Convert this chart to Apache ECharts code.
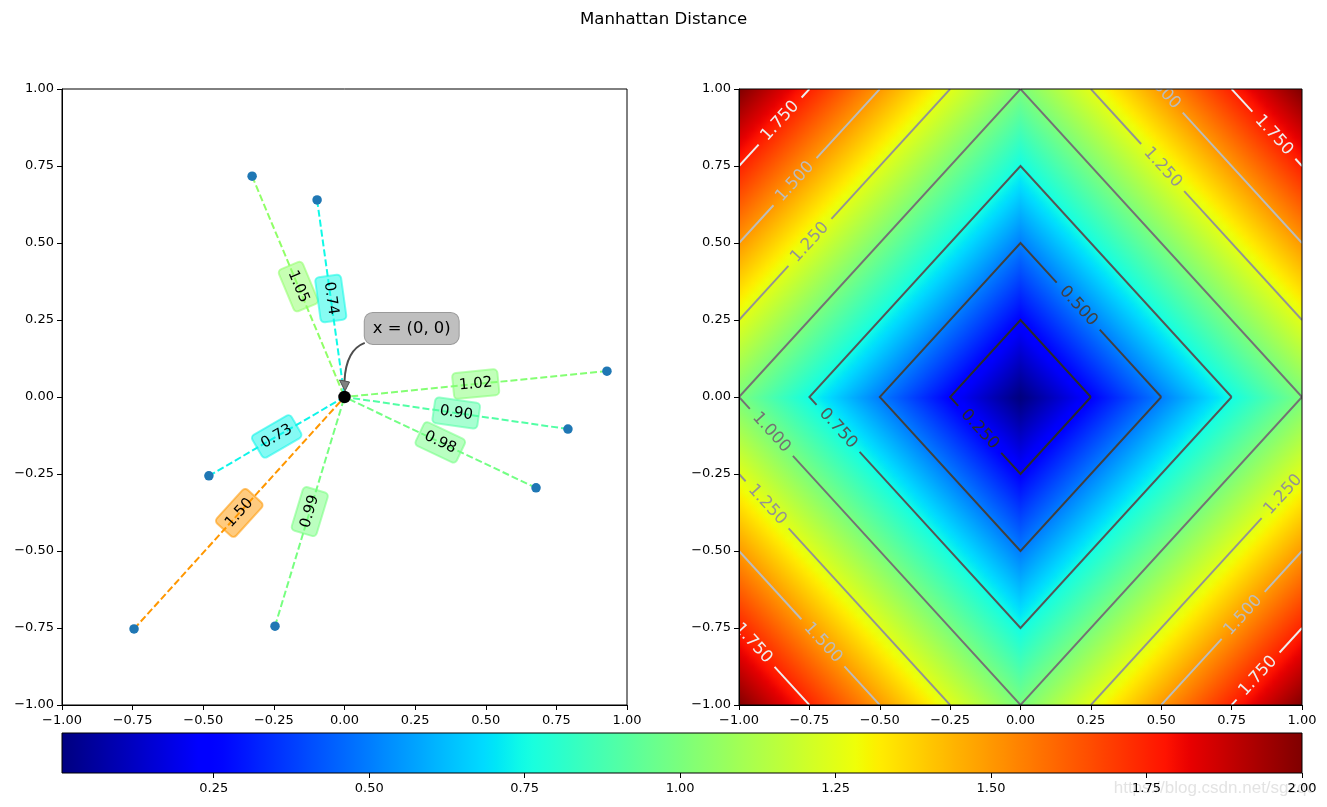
<!DOCTYPE html>
<html><head><meta charset="utf-8">
<script src="https://cdn.jsdelivr.net/npm/echarts@6/dist/echarts.min.js"></script>
<style>html,body{margin:0;padding:0;background:#fff}#c{width:1327px;height:807px}</style>
</head><body><div id="c"></div>
<script>
// ---------------- data ----------------
const titleText = 'Manhattan Distance';
const pointX = [-0.327, -0.097, 0.929, 0.791, 0.678, -0.480, -0.745, -0.246];
const pointY = [0.717, 0.640, 0.084, -0.104, -0.295, -0.256, -0.753, -0.744];
const distLabels = ['1.05', '0.74', '1.02', '0.90', '0.98', '0.73', '1.50', '0.99'];
const originXY = [0, 0];
const annotationText = 'x = (0, 0)';
const annotationXY = [0.1, 0.2];
const axisTicks = [-1.00, -0.75, -0.50, -0.25, 0.00, 0.25, 0.50, 0.75, 1.00];
const contourLevels = [0.25, 0.50, 0.75, 1.00, 1.25, 1.50, 1.75];
const contourLabelLevel = [0.25, 0.50, 0.75, 1.00, 1.25, 1.25, 1.25, 1.25, 1.50, 1.50, 1.50, 1.50, 1.75, 1.75, 1.75, 1.75];
const contourLabelX =     [-0.145, 0.205, -0.648, -0.885, -0.748, 0.505, -0.900, 0.933, -0.801, 0.500, -0.702, 0.791, -0.854, 0.900, -0.950, 0.844];
const contourLabelY =     [-0.105, 0.295, -0.102, -0.115, 0.502, 0.745, -0.350, -0.317, 0.699, 1.000, -0.798, -0.709, 0.896, 0.850, -0.800, -0.906];
const cbarMin = 0.006, cbarMax = 2.0;
const cbarTicks = [0.25, 0.50, 0.75, 1.00, 1.25, 1.50, 1.75, 2.00];
const watermarkText = 'https://blog.csdn.net/sgzqc';

// ---------------- styles ----------------
const FONT = 'DejaVu Sans';
const TICK_FS = 13;
const contourColors = ['#2a2a2a', '#404040', '#555555', '#737373', '#939393', '#bcbcbc', '#eeeeee'];

// ---------------- helpers ----------------
function interp(v, pts) {
  if (v <= pts[0][0]) return pts[0][1];
  for (let i = 1; i < pts.length; i++) {
    if (v <= pts[i][0]) {
      const a = pts[i - 1], b = pts[i];
      return a[1] + (b[1] - a[1]) * (v - a[0]) / (b[0] - a[0]);
    }
  }
  return pts[pts.length - 1][1];
}
function jet(v) {
  v = Math.max(0, Math.min(1, v));
  const r = interp(v, [[0, 0], [0.35, 0], [0.66, 1], [0.89, 1], [1, 0.5]]);
  const g = interp(v, [[0, 0], [0.125, 0], [0.375, 1], [0.64, 1], [0.91, 0], [1, 0]]);
  const b = interp(v, [[0, 0.5], [0.11, 1], [0.34, 1], [0.65, 0], [1, 0]]);
  return [Math.round(r * 255), Math.round(g * 255), Math.round(b * 255)];
}
function rgb(c, a) { return a == null ? `rgb(${c[0]},${c[1]},${c[2]})` : `rgba(${c[0]},${c[1]},${c[2]},${a})`; }
function heatColor(v) { return rgb(jet((v - cbarMin) / (cbarMax - cbarMin))); }
function tickFmt(v) { return (v < -1e-9 ? '\u2212' : '') + Math.abs(v).toFixed(2); }
const measureCtx = document.createElement('canvas').getContext('2d');
function textWidth(t, size) { measureCtx.font = size + 'px "' + FONT + '"'; return measureCtx.measureText(t).width; }
function readableAngle(dx, dy) {
  let a = Math.atan2(-dy, dx);
  if (a > Math.PI / 2) a -= Math.PI;
  if (a <= -Math.PI / 2) a += Math.PI;
  return a;
}

// heatmap grid (Manhattan distance field)
const heatRowsY = [];
for (let i = 0; i < 616; i++) heatRowsY.push(-1 + i * 2 / 616);
const heatRowStep = 2 / 616;
const heatColsX = [];
for (let i = 0; i <= 80; i++) heatColsX.push(-1 + i * 0.025);
function manhattan(x, y) { return Math.abs(x) + Math.abs(y); }

function contourPolylines(c) {
  if (c <= 1) return [[[c, 0], [0, c], [-c, 0], [0, -c], [c, 0]]];
  const d = c - 1;
  return [[[d, 1], [1, d]], [[-d, 1], [-1, d]], [[-1, -d], [-d, -1]], [[d, -1], [1, -d]]];
}

const chart = echarts.init(document.getElementById('c'), null, { renderer: 'canvas' });

function valueAxis(gridIndex, isX) {
  return {
    type: 'value', gridIndex, min: -1, max: 1, interval: 0.25, z: 10,
    axisLine: { show: true, onZero: false, lineStyle: { color: '#000', width: 1 } },
    axisTick: { show: true, inside: false, length: 5, lineStyle: { color: '#000', width: 1 } },
    axisLabel: { show: true, formatter: tickFmt, color: '#000', fontFamily: FONT, fontSize: TICK_FS, margin: isX ? 9 : 8 },
    splitLine: { show: false }
  };
}

const gridL = { left: 62, top: 89, width: 565, height: 616, show: true, borderColor: '#000', borderWidth: 1, z: 20, backgroundColor: 'transparent' };
const gridR = { left: 739, top: 89, width: 563, height: 616, show: true, borderColor: '#000', borderWidth: 1, z: 20, backgroundColor: 'transparent' };
const gridC = { left: 62, top: 733, width: 1240, height: 40, show: true, borderColor: '#000', borderWidth: 1, z: 20, backgroundColor: 'transparent' };

const option = {
  animation: false,
  backgroundColor: '#fff',
  title: { text: titleText, left: 'center', top: 6, textStyle: { fontFamily: FONT, fontSize: 16.6, fontWeight: 'normal', color: '#000' } },
  grid: [gridL, gridR, gridC],
  xAxis: [
    valueAxis(0, true),
    valueAxis(1, true),
    {
      type: 'value', gridIndex: 2, min: cbarMin, max: cbarMax, z: 10,
      axisLine: { show: false, onZero: false },
      axisTick: { show: true, length: 5, customValues: cbarTicks, lineStyle: { color: '#000' } },
      axisLabel: { show: true, customValues: cbarTicks, formatter: v => v.toFixed(2), color: '#000', fontFamily: FONT, fontSize: TICK_FS, margin: 9 },
      splitLine: { show: false }
    }
  ],
  yAxis: [
    valueAxis(0, false),
    valueAxis(1, false),
    { type: 'value', gridIndex: 2, min: 0, max: 1, show: false }
  ],
  graphic: [{
    type: 'text', right: 12, top: 780, z: 1,
    style: { text: watermarkText, fill: 'rgba(200,200,200,0.5)', font: '17px "Liberation Sans"' }
  }],
  series: [
    // ---- left: dashed lines from origin ----
    {
      type: 'custom', coordinateSystem: 'cartesian2d', xAxisIndex: 0, yAxisIndex: 0, z: 2,
      data: pointX.map((x, i) => [x, pointY[i], i]),
      renderItem: function (params, api) {
        const i = api.value(2);
        const p0 = api.coord(originXY);
        const p1 = api.coord([api.value(0), api.value(1)]);
        return {
          type: 'line',
          shape: { x1: p1[0], y1: p1[1], x2: p0[0], y2: p0[1] },
          style: { stroke: rgb(jet(parseFloat(distLabels[i]) / 2)), lineWidth: 2, lineDash: [7, 3], fill: null }
        };
      }
    },
    // ---- left: distance labels ----
    {
      type: 'custom', coordinateSystem: 'cartesian2d', xAxisIndex: 0, yAxisIndex: 0, z: 3,
      data: pointX.map((x, i) => [x, pointY[i], i]),
      renderItem: function (params, api) {
        const i = api.value(2);
        const p0 = api.coord(originXY);
        const p1 = api.coord([api.value(0), api.value(1)]);
        const col = jet(parseFloat(distLabels[i]) / 2);
        return {
          type: 'text',
          x: (p0[0] + p1[0]) / 2, y: (p0[1] + p1[1]) / 2,
          rotation: readableAngle(p1[0] - p0[0], p1[1] - p0[1]),
          style: {
            text: distLabels[i], fill: '#000', fontFamily: FONT, fontSize: 15,
            align: 'center', verticalAlign: 'middle', lineHeight: 18,
            backgroundColor: rgb(col, 0.5), borderColor: rgb(col, 0.55), borderWidth: 1,
            borderRadius: 4, padding: [4, 6]
          }
        };
      }
    },
    // ---- left: points ----
    {
      type: 'scatter', xAxisIndex: 0, yAxisIndex: 0, z: 4, symbolSize: 9.5,
      itemStyle: { color: '#1f77b4', opacity: 1 },
      data: pointX.map((x, i) => [x, pointY[i]])
    },
    {
      type: 'scatter', xAxisIndex: 0, yAxisIndex: 0, z: 5, symbolSize: 12.5,
      itemStyle: { color: '#000', opacity: 1 },
      data: [originXY]
    },
    // ---- left: annotation ----
    {
      type: 'custom', coordinateSystem: 'cartesian2d', xAxisIndex: 0, yAxisIndex: 0, z: 6,
      data: [[annotationXY[0], annotationXY[1]]],
      renderItem: function (params, api) {
        const p = api.coord([api.value(0), api.value(1)]);
        const o = api.coord(originXY);
        const sx = p[0] - 8, sy = p[1] + 7.5;
        const ex = o[0], ey = o[1] - 16;
        const tipY = o[1] - 6;
        return {
          type: 'group',
          children: [
            {
              type: 'bezierCurve', z2: 1,
              shape: { x1: sx, y1: sy, x2: ex, y2: ey, cpx1: o[0] + 1.5, cpy1: sy + 7 },
              style: { stroke: '#4d4d4d', lineWidth: 2, fill: null }
            },
            {
              type: 'polygon', z2: 2,
              shape: { points: [[ex - 5, ey - 1], [ex + 5, ey + 1], [ex + 0.5, tipY]] },
              style: { fill: '#808080', stroke: '#4d4d4d', lineWidth: 1 }
            },
            {
              type: 'text', z2: 3,
              x: p[0] - 8, y: p[1] - 7,
              style: {
                text: annotationText, fill: '#000', fontFamily: FONT, fontSize: 16.4,
                align: 'left', verticalAlign: 'middle', lineHeight: 17,
                backgroundColor: '#bfbfbf', borderColor: '#9a9a9a', borderWidth: 1,
                borderRadius: 8, padding: [7, 8]
              }
            }
          ]
        };
      }
    },
    // ---- right: heatmap (rows with horizontal gradient) ----
    {
      type: 'custom', coordinateSystem: 'cartesian2d', xAxisIndex: 1, yAxisIndex: 1, z: 1, clip: true,
      data: heatRowsY.map(y => [y, y + heatRowStep]),
      renderItem: function (params, api) {
        const y0 = api.value(0), y1 = api.value(1);
        const pA = api.coord([-1, y1]);
        const pB = api.coord([1, y0]);
        const ym = (y0 + y1) / 2;
        const stops = heatColsX.map(x => ({ offset: (x + 1) / 2, color: heatColor(manhattan(x, ym)) }));
        return {
          type: 'rect',
          shape: { x: pA[0], y: pA[1], width: pB[0] - pA[0], height: pB[1] - pA[1] + 0.8 },
          style: { fill: new echarts.graphic.LinearGradient(0, 0, 1, 0, stops) }
        };
      }
    },
    // ---- right: contour lines ----
    {
      type: 'custom', coordinateSystem: 'cartesian2d', xAxisIndex: 1, yAxisIndex: 1, z: 2, clip: true,
      data: contourLevels.map((c, i) => [c, i]),
      renderItem: function (params, api) {
        const c = api.value(0), li = api.value(1);
        const cuts = [];
        contourLabelLevel.forEach((lv, k) => {
          if (Math.abs(lv - c) < 1e-6) {
            cuts.push({ p: api.coord([contourLabelX[k], contourLabelY[k]]), g: textWidth(c.toFixed(3), 16.7) / 2 + 8 });
          }
        });
        const out = [];
        contourPolylines(c).forEach(poly => {
          const pts = poly.map(q => api.coord(q));
          let cur = [pts[0]];
          for (let i = 0; i < pts.length - 1; i++) {
            const A = pts[i], B = pts[i + 1];
            const dx = B[0] - A[0], dy = B[1] - A[1], len = Math.hypot(dx, dy);
            const lerp = t => [A[0] + dx * t, A[1] + dy * t];
            let ivs = [];
            cuts.forEach(ct => {
              const t = ((ct.p[0] - A[0]) * dx + (ct.p[1] - A[1]) * dy) / (len * len);
              const q = lerp(t);
              const d = Math.hypot(ct.p[0] - q[0], ct.p[1] - q[1]);
              const s = t - ct.g / len, e = t + ct.g / len;
              if (d < 8 && e > 0 && s < 1) ivs.push([Math.max(0, s), Math.min(1, e)]);
            });
            ivs.sort((a, b) => a[0] - b[0]);
            ivs.forEach(([s, e]) => {
              if (s > 0 && cur.length) cur.push(lerp(s));
              if (cur.length > 1) out.push(cur);
              cur = e < 1 ? [lerp(e)] : [];
            });
            if (cur.length) cur.push(B); else cur = [B];
          }
          if (cur.length > 1) out.push(cur);
        });
        return {
          type: 'group',
          children: out.map(pl => ({
            type: 'polyline', shape: { points: pl },
            style: { stroke: contourColors[li], lineWidth: 1.9, fill: null, lineJoin: 'miter' }
          }))
        };
      }
    },
    // ---- right: contour labels ----
    {
      type: 'custom', coordinateSystem: 'cartesian2d', xAxisIndex: 1, yAxisIndex: 1, z: 3, clip: true,
      data: contourLabelX.map((x, k) => [x, contourLabelY[k], contourLabelLevel[k]]),
      renderItem: function (params, api) {
        const x = api.value(0), y = api.value(1), lv = api.value(2);
        const li = contourLevels.findIndex(c => Math.abs(c - lv) < 1e-6);
        const p = api.coord([x, y]);
        const sgn = (x >= 0 ? 1 : -1) * (y >= 0 ? 1 : -1);
        const q = api.coord([x + 0.1, y - sgn * 0.1]);
        return {
          type: 'text', x: p[0], y: p[1],
          rotation: readableAngle(q[0] - p[0], q[1] - p[1]),
          style: {
            text: lv.toFixed(3), fill: contourColors[li], fontFamily: FONT, fontSize: 16.7,
            align: 'center', verticalAlign: 'middle'
          }
        };
      }
    },
    // ---- colorbar ----
    {
      type: 'custom', coordinateSystem: 'cartesian2d', xAxisIndex: 2, yAxisIndex: 2, z: 1,
      data: [[cbarMin, cbarMax]],
      renderItem: function (params, api) {
        const a = api.value(0), b = api.value(1);
        const pA = api.coord([a, 1]);
        const pB = api.coord([b, 0]);
        const stops = [];
        for (let i = 0; i <= 100; i++) {
          const v = a + (b - a) * i / 100;
          stops.push({ offset: i / 100, color: heatColor(v) });
        }
        return {
          type: 'rect',
          shape: { x: pA[0], y: pA[1], width: pB[0] - pA[0], height: pB[1] - pA[1] },
          style: { fill: new echarts.graphic.LinearGradient(0, 0, 1, 0, stops) }
        };
      }
    }
  ]
};
chart.setOption(option);
</script>
</body></html>
